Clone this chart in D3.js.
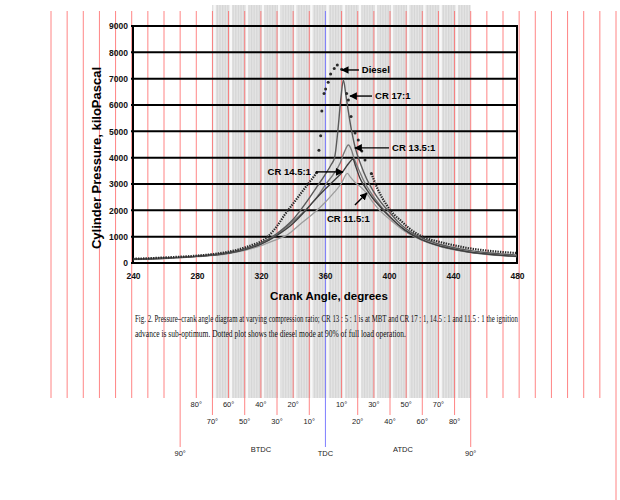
<!DOCTYPE html>
<html>
<head>
<meta charset="utf-8">
<script src="https://cdn.jsdelivr.net/npm/d3@7/dist/d3.min.js"></script>
<style>
    body { margin: 0; background: #fff; }
    svg { display: block; }
</style>
</head>
<body>
<svg id="chart" width="620" height="500"></svg>
<script>
// chart data: [crank angle (deg), cylinder pressure (kPa)]
const angleTicks = [240, 280, 320, 360, 400, 440, 480];
const pressureTicks = [0, 1000, 2000, 3000, 4000, 5000, 6000, 7000, 8000, 9000];

const diesel = [
    [240, 160], [250, 180], [260, 210], [270, 240], [280, 280], [290, 340], [300, 430], [305, 500],
    [310, 590], [315, 700], [320, 820], [325, 1050], [330, 1400], [335, 1850], [340, 2250],
    [345, 2650], [350, 3050], [353, 3280], [354.8, 3440], [356.2, 4280], [357.3, 4830],
    [358, 5770], [359.4, 6440], [360.4, 6610], [362, 6860], [363.5, 7180], [365.8, 7390],
    [367.7, 7520], [370.4, 7360], [373.5, 6440], [374.6, 6190], [376.3, 5560], [378.8, 4940],
    [380.8, 4670], [383, 4250], [385, 3910], [389, 3400], [393, 2800], [398, 2250], [403, 1850],
    [407, 1630], [412, 1350], [417, 1130], [424, 930], [431, 810], [440, 680], [448, 580],
    [460, 480], [470, 420], [480, 380]
];

const cr17 = [
    [240, 150], [260, 190], [280, 260], [300, 400], [310, 540], [320, 760], [330, 1120],
    [340, 1650], [350, 2450], [355, 2900], [360, 3350], [364, 3750], [366, 4000], [368, 5000],
    [370, 6300], [371.5, 6950], [373, 6400], [375, 5600], [377, 4900], [379, 4350], [382, 3800],
    [386, 3200], [390, 2750], [395, 2300], [400, 1950], [405, 1600], [410, 1330], [420, 960],
    [430, 740], [440, 590], [450, 480], [460, 400], [470, 340], [480, 300]
];

const cr135 = [
    [240, 140], [260, 180], [280, 250], [300, 380], [310, 520], [320, 730], [330, 1080],
    [340, 1580], [350, 2150], [355, 2500], [361, 3030], [365, 3350], [369.5, 3800], [372, 4200],
    [374.6, 4480], [376.5, 4300], [378, 4000], [380, 3700], [384, 3150], [390, 2550], [395, 2150],
    [400, 1800], [405, 1500], [410, 1250], [420, 900], [430, 680], [440, 530], [450, 420],
    [460, 340], [470, 290], [480, 250]
];

const cr145 = [
    [240, 140], [260, 180], [280, 250], [300, 380], [310, 510], [320, 720], [330, 1050],
    [340, 1500], [348, 2000], [353, 2350], [360, 2800], [366, 3150], [371, 3460], [375, 3800],
    [377.5, 3950], [379, 3700], [382, 3200], [386, 2800], [390, 2450], [395, 2100], [400, 1780],
    [410, 1250], [420, 900], [430, 680], [440, 530], [450, 420], [460, 350], [470, 290], [480, 250]
];

const cr115 = [
    [240, 130], [260, 170], [280, 240], [300, 360], [310, 480], [320, 660], [330, 900],
    [336, 1050], [345, 1500], [352.7, 1880], [360, 2300], [366, 2700], [370, 3000], [374, 3400],
    [376, 3250], [379, 3050], [383, 2850], [386, 2650], [390, 2300], [395, 1950], [400, 1680],
    [410, 1200], [420, 880], [430, 660], [440, 510], [450, 400], [460, 330], [470, 280], [480, 240]
];

// series labels
const seriesLabels = ["Diesel", "CR 17:1", "CR 13.5:1", "CR 14.5:1", "CR 11.5:1"];

// crank-angle ruler under the chart (overlay)
const rulerAngles = d3.range(190, 541, 10);
const btdcLabels = ["90°", "80°", "70°", "60°", "50°", "40°", "30°", "20°", "10°"];
const atdcLabels = ["10°", "20°", "30°", "40°", "50°", "60°", "70°", "80°", "90°"];

const caption1 = "Fig. 2. Pressure\u2013crank angle diagram at varying compression ratio; CR 13 : 5 : 1 is at MBT and CR 17 : 1, 14.5 : 1 and 11.5 : 1 the ignition";
const caption2 = "advance is sub-optimum. Dotted plot shows the diesel mode at 90% of full load operation.";

const svg = d3.select("#chart");

// ---------- overlay: protractor band + degree lines ----------
const ox = d3.scaleLinear().domain([190, 540]).range([51, 616]);
const overlay = svg.append("g");

// gray band from 70 BTDC to 90 ATDC
overlay.append("rect")
    .attr("x", ox(290)).attr("y", 5)
    .attr("width", ox(450) - ox(290)).attr("height", 393)
    .attr("fill", "#e0e0e0");

overlay.selectAll("line.fine")
    .data(d3.range(290, 450, 0.5))
    .join("line")
    .attr("x1", d => ox(d) + 0.4).attr("x2", d => ox(d) + 0.4)
    .attr("y1", 5).attr("y2", 398)
    .attr("stroke", (d, i) => i % 2 ? "#eeeeee" : "#cbcbcb")
    .attr("stroke-width", 0.6);

overlay.selectAll("rect.gap")
    .data(d3.range(290, 450, 10))
    .join("rect")
    .attr("x", d => ox(d) + 1).attr("y", 5)
    .attr("width", 2.4).attr("height", 393)
    .attr("fill", "#f8f8f8");

function lineBottom(a) {
    if (a === 540) return 500;
    if (a === 270 || a === 450 || a === 360) return 447;
    if (a < 280 || a > 440) return 398;
    const n = Math.abs(a - 360) / 10;
    const long = a < 360 ? n % 2 === 1 : n % 2 === 0;
    return long ? 415 : 398;
}

overlay.selectAll("line.deg")
    .data(rulerAngles)
    .join("line")
    .attr("x1", d => ox(d)).attr("x2", d => ox(d))
    .attr("y1", 11).attr("y2", d => lineBottom(d))
    .attr("stroke", d => d === 360 ? "#7070ff" : "#ff5c5c")
    .attr("stroke-opacity", d => d === 360 ? 0.9 : 0.75)
    .attr("stroke-width", 1);

const rulerText = overlay.append("g")
    .attr("font-family", "Liberation Sans, Arial, sans-serif")
    .attr("font-size", 7.5)
    .attr("fill", "#222")
    .attr("text-anchor", "middle");

btdcLabels.forEach((t, i) => {
    const a = 270 + i * 10;
    rulerText.append("text").attr("x", ox(a)).attr("y", lineBottom(a) + 9).text(t);
});
atdcLabels.forEach((t, i) => {
    const a = 370 + i * 10;
    rulerText.append("text").attr("x", ox(a)).attr("y", lineBottom(a) + 9).text(t);
});
rulerText.append("text").attr("x", ox(360)).attr("y", 456).text("TDC");
rulerText.append("text").attr("x", ox(320)).attr("y", 452).text("BTDC");
rulerText.append("text").attr("x", ox(408)).attr("y", 452).text("ATDC");

// ---------- the chart itself ----------
const x = d3.scaleLinear().domain([240, 480]).range([133, 517]);
const y = d3.scaleLinear().domain([0, 9000]).range([263, 26]);

const chart = svg.append("g");

chart.selectAll("line.grid")
    .data(pressureTicks)
    .join("line")
    .attr("x1", x(240) - 2).attr("x2", x(480))
    .attr("y1", d => y(d)).attr("y2", d => y(d))
    .attr("stroke", "#000").attr("stroke-width", 2);

[240, 480].forEach(a => {
    chart.append("line")
        .attr("x1", x(a)).attr("x2", x(a))
        .attr("y1", y(9000) - 1).attr("y2", y(0) + 1)
        .attr("stroke", "#000").attr("stroke-width", 2);
});

const yAxis = d3.axisLeft(y).tickValues(pressureTicks).tickSize(0).tickPadding(5).tickFormat(d3.format("d"));
chart.append("g")
    .attr("transform", `translate(${x(240)},0)`)
    .call(yAxis)
    .call(g => g.select(".domain").remove())
    .call(g => g.selectAll("text")
        .attr("font-family", "Liberation Sans, Arial, sans-serif")
        .attr("font-size", 8.5).attr("font-weight", "bold").attr("fill", "#111"));

const xAxis = d3.axisBottom(x).tickValues(angleTicks).tickSize(0).tickPadding(10);
chart.append("g")
    .attr("transform", `translate(0,${y(0)})`)
    .call(xAxis)
    .call(g => g.select(".domain").remove())
    .call(g => g.selectAll("text")
        .attr("font-family", "Liberation Sans, Arial, sans-serif")
        .attr("font-size", 8.5).attr("font-weight", "bold").attr("fill", "#111"));

chart.append("text")
    .attr("transform", "translate(101,158) rotate(-90)")
    .attr("text-anchor", "middle")
    .attr("font-family", "Liberation Sans, Arial, sans-serif")
    .attr("font-size", 13).attr("font-weight", "bold")
    .text("Cylinder Pressure, kiloPascal");

chart.append("text")
    .attr("x", 329).attr("y", 300)
    .attr("text-anchor", "middle")
    .attr("font-family", "Liberation Sans, Arial, sans-serif")
    .attr("font-size", 11.5).attr("font-weight", "bold")
    .text("Crank Angle, degrees");

// curves
const line = d3.line()
    .x(d => x(d[0]))
    .y(d => y(d[1]))
    .curve(d3.curveMonotoneX);

const solidSeries = [
    { data: cr115, color: "#9c9c9c", width: 1.3 },
    { data: cr135, color: "#7a7a7a", width: 1.4 },
    { data: cr145, color: "#3e3e3e", width: 1.4 },
    { data: cr17, color: "#5a5a5a", width: 1.4 }
];
solidSeries.forEach(s => {
    chart.append("path")
        .attr("d", line(s.data))
        .attr("fill", "none")
        .attr("stroke", s.color)
        .attr("stroke-width", s.width);
});

// diesel: dense dotted where slow, separate dots where steep
chart.append("path")
    .attr("d", line.defined(d => d[1] < 3500)(diesel))
    .attr("fill", "none")
    .attr("stroke", "#2a2a2a")
    .attr("stroke-width", 2.2)
    .attr("stroke-dasharray", "1.4,1.1");
line.defined(() => true);

chart.selectAll("circle.diesel")
    .data(diesel.filter(d => d[1] >= 3400))
    .join("circle")
    .attr("cx", d => x(d[0])).attr("cy", d => y(d[1]))
    .attr("r", 1.5)
    .attr("fill", "#2a2a2a");

// annotations (text anchor and arrow ends in angle / kPa)
const notes = [
    { text: seriesLabels[0], tx: 383, ty: 7330, anchor: "start", from: [381.2, 7330], to: [370.4, 7330] },
    { text: seriesLabels[1], tx: 391.3, ty: 6340, anchor: "start", from: [389.4, 6340], to: [375.6, 6340] },
    { text: seriesLabels[2], tx: 401.9, ty: 4370, anchor: "start", from: [400, 4370], to: [378.7, 4370] },
    { text: seriesLabels[3], tx: 351.2, ty: 3460, anchor: "end", from: [354.4, 3460], to: [371.2, 3460] },
    { text: seriesLabels[4], tx: 361.2, ty: 1670, anchor: "start", from: [378.7, 2200], to: [386.2, 2660] }
];

svg.append("defs").append("marker")
    .attr("id", "head")
    .attr("viewBox", "0 0 10 10")
    .attr("refX", 9).attr("refY", 5)
    .attr("markerWidth", 5.5).attr("markerHeight", 5.5)
    .attr("orient", "auto")
    .append("path").attr("d", "M0,0 L10,5 L0,10 z").attr("fill", "#000");

notes.forEach(n => {
    chart.append("line")
        .attr("x1", x(n.from[0])).attr("y1", y(n.from[1]))
        .attr("x2", x(n.to[0])).attr("y2", y(n.to[1]))
        .attr("stroke", "#000").attr("stroke-width", 1.4)
        .attr("marker-end", "url(#head)");
    chart.append("text")
        .attr("x", x(n.tx)).attr("y", y(n.ty))
        .attr("dy", "0.35em")
        .attr("text-anchor", n.anchor)
        .attr("font-family", "Liberation Sans, Arial, sans-serif")
        .attr("font-size", 9.5).attr("font-weight", "bold")
        .text(n.text);
});

// caption (condensed serif, as in the scan)
const cap = svg.append("g")
    .attr("font-family", "Liberation Serif, Times New Roman, serif")
    .attr("font-size", 10.5)
    .attr("fill", "#111");
cap.append("text").attr("x", 135).attr("y", 322)
    .attr("textLength", 383).attr("lengthAdjust", "spacingAndGlyphs")
    .text(caption1);
cap.append("text").attr("x", 135).attr("y", 337)
    .attr("textLength", 271).attr("lengthAdjust", "spacingAndGlyphs")
    .text(caption2);
</script>
</body>
</html>
